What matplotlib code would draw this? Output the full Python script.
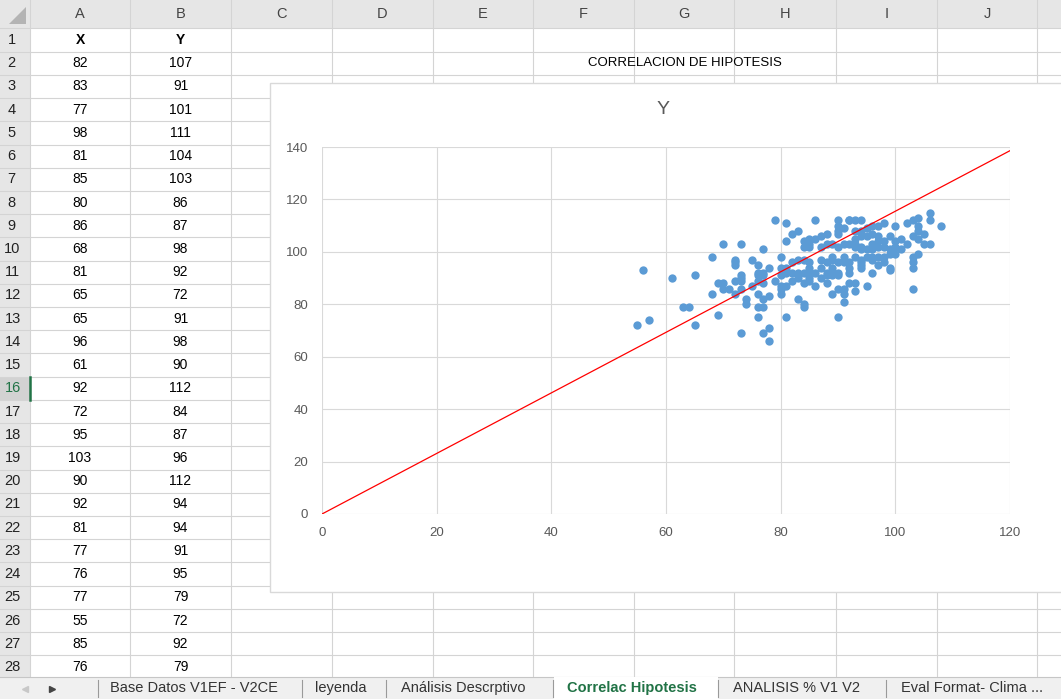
import matplotlib.pyplot as plt
from matplotlib.patches import Rectangle, Polygon

plt.rcParams['font.family'] = ['Liberation Sans', 'DejaVu Sans']

# ---------------- data ----------------
# rows visible in columns A (X) and B (Y) of the sheet
table_x = [82, 83, 77, 98, 81, 85, 80, 86, 68, 81, 65, 65, 96, 61, 92, 72, 95,
           103, 90, 92, 81, 77, 76, 77, 55, 85, 76]
table_y = [107, 91, 101, 111, 104, 103, 86, 87, 98, 92, 72, 91, 98, 90, 112, 84,
           87, 96, 112, 94, 94, 91, 95, 79, 72, 92, 79]

# remaining points
left_pts = [(56, 93), (57, 74), (63, 79), (64, 79), (69, 76), (70, 103), (73, 103),
            (68, 84), (69, 88), (70, 88), (70, 86), (71, 86), (72, 97), (72, 96),
            (72, 95), (72, 89), (73, 91), (73, 89), (73, 90), (73, 86), (74, 82),
            (74, 80), (73, 69), (75, 97), (75, 87), (76, 92), (76, 91), (76, 89),
            (76, 84), (76, 75), (77, 92), (77, 88), (77, 82), (77, 69), (78, 83),
            (78, 71), (78, 66), (78, 94), (79, 89), (79, 112), (81, 111), (83, 108),
            (80, 98), (80, 94), (80, 91), (80, 87), (80, 84), (81, 75)]
mid_pts = [(82, 96), (83, 97), (84, 97), (81, 87), (82, 89), (82, 92), (83, 90),
           (83, 92), (83, 82), (84, 80), (84, 79), (84, 88), (84, 92), (84, 104),
           (84, 102), (85, 105), (85, 102), (85, 90), (85, 89), (85, 94), (85, 96),
           (86, 105), (86, 92), (86, 112), (87, 106), (87, 102), (87, 90), (87, 94),
           (87, 97), (88, 107), (88, 103), (88, 88), (88, 91), (88, 92), (88, 96),
           (89, 103), (89, 97), (89, 94), (89, 92), (89, 91), (89, 98), (89, 84),
           (90, 110), (90, 107), (90, 108), (90, 102), (90, 96), (90, 92), (90, 91),
           (90, 86), (90, 75)]
upper_pts = [(91, 109), (91, 103), (91, 98), (91, 96), (91, 86), (91, 84), (91, 81),
             (92, 112), (92, 103), (92, 96), (92, 92), (92, 88), (93, 112), (93, 108),
             (93, 105), (93, 103), (93, 102), (93, 98), (93, 88), (93, 85), (94, 112),
             (94, 108), (94, 106), (94, 102), (94, 101), (94, 97), (94, 96), (94, 95),
             (94, 94), (95, 109), (95, 106), (95, 101), (95, 98), (96, 110), (96, 107),
             (96, 103), (96, 101), (96, 97), (96, 92), (97, 110), (97, 106), (97, 104),
             (97, 102), (97, 98), (97, 95), (98, 104), (98, 102), (98, 98), (98, 96)]
right_pts = [(99, 106), (99, 101), (99, 99), (99, 94), (99, 93), (100, 110), (100, 104),
             (100, 102), (101, 105), (101, 101), (102, 111), (103, 112), (103, 106),
             (103, 98), (103, 94), (103, 86), (104, 110), (104, 108), (104, 105),
             (104, 99), (104, 113), (105, 103), (105, 107), (106, 103), (106, 115),
             (106, 112), (108, 110), (100, 99), (102, 103)]

line_x = [0, 120]
line_y = [0, 138.6]

col_letters = ['A', 'B', 'C', 'D', 'E', 'F', 'G', 'H', 'I', 'J']
tab_names = ['Base Datos V1EF - V2CE', 'leyenda', 'Análisis Descrptivo',
             'Correlac Hipotesis', 'ANALISIS % V1 V2', 'Eval Format- Clima ...']

x_all = list(table_x)
y_all = list(table_y)
for grp in (left_pts, mid_pts, upper_pts, right_pts):
    for px, py in grp:
        x_all.append(px)
        y_all.append(py)

# ---------------- sheet background ----------------
W, H = 1061, 699
fig = plt.figure(figsize=(W / 100, H / 100), dpi=100)
bg = fig.add_axes([0, 0, 1, 1])
bg.set_xlim(0, W)
bg.set_ylim(H, 0)
bg.axis('off')

col_edges = [0, 30, 130, 231, 332, 433, 533, 634, 734, 836, 937, 1037, 1061]
row_top = 28.4
row_h = 23.22
n_rows = 28
tab_top = 677

grid_c = '#d4d4d4'
hdr_c = '#e6e6e6'

# headers
bg.add_patch(Rectangle((0, 0), W, row_top, facecolor=hdr_c, edgecolor='none'))
bg.add_patch(Rectangle((0, 0), 30, tab_top, facecolor=hdr_c, edgecolor='none'))
bg.add_patch(Polygon([(9, 24), (26, 24), (26, 7)], closed=True,
                     facecolor='#b4b4b4', edgecolor='none'))

# grid lines
for xe in col_edges[1:-1]:
    bg.plot([xe, xe], [0, tab_top], color=grid_c, lw=0.8)
for k in range(n_rows + 1):
    yy = row_top + k * row_h
    bg.plot([0, W], [yy, yy], color=grid_c, lw=0.8)

for i, letter in enumerate(col_letters):
    cx = (col_edges[i + 1] + col_edges[i + 2]) / 2
    bg.text(cx, 14, letter, ha='center', va='center', fontsize=10.5, color='#444444')

# row 16 selected header
sel_top = row_top + 15 * row_h
bg.add_patch(Rectangle((0, sel_top), 30, row_h, facecolor='#d2d2d2', edgecolor='none'))
bg.plot([29.5, 29.5], [sel_top, sel_top + row_h], color='#217346', lw=1.8)

for r in range(1, n_rows + 1):
    cy = row_top + (r - 0.5) * row_h
    col = '#217346' if r == 16 else '#222222'
    cx = 11.5 if r < 10 else 12.5
    bg.text(cx, cy, str(r), ha='center', va='center', fontsize=10.5, color=col)

# table cells
ax_c = (col_edges[1] + col_edges[2]) / 2
bx_c = (col_edges[2] + col_edges[3]) / 2
cy1 = row_top + 0.5 * row_h
bg.text(ax_c, cy1, 'X', ha='center', va='center', fontsize=10, weight='bold')
bg.text(bx_c, cy1, 'Y', ha='center', va='center', fontsize=10, weight='bold')
for i in range(len(table_x)):
    cy = row_top + (i + 1.5) * row_h
    bg.text(ax_c, cy, str(table_x[i]), ha='center', va='center', fontsize=10)
    bg.text(bx_c, cy, str(table_y[i]), ha='center', va='center', fontsize=10)

bg.text(685, row_top + 1.5 * row_h, 'CORRELACION DE HIPOTESIS', ha='center',
        va='center', fontsize=9.5)

# chart object box
bg.add_patch(Rectangle((270, 83), 820, 509, facecolor='white', edgecolor='#d9d9d9',
                       lw=1, zorder=5))
bg.text(663, 110, 'Y', ha='center', va='center', fontsize=14, color='#595959', zorder=6)

# sheet tabs
bg.add_patch(Rectangle((0, tab_top), W, H - tab_top, facecolor='#f0f0f0',
                       edgecolor='none', zorder=5))
bg.plot([0, W], [tab_top, tab_top], color='#c6c6c6', lw=0.8, zorder=6)
bg.add_patch(Rectangle((554, tab_top), 164, H - tab_top, facecolor='white',
                       edgecolor='none', zorder=6))
for sx in [98, 302, 386, 553, 718, 886]:
    bg.plot([sx, sx], [680, 697], color='#9a9a9a', lw=0.8, zorder=7)
tab_x = [110, 315, 401, 567, 733, 901]
for tx, name in zip(tab_x, tab_names):
    if name == 'Correlac Hipotesis':
        bg.text(tx, 688, name, ha='left', va='center', fontsize=10.5,
                weight='bold', color='#217346', zorder=8)
    else:
        bg.text(tx, 688, name, ha='left', va='center', fontsize=10.5,
                color='#333333', zorder=8)
bg.plot([25], [689], marker='<', ms=4, color='#c8c8c8', zorder=8)
bg.plot([52], [689], marker='>', ms=4, color='#444444', zorder=8)

# ---------------- chart ----------------
ax = fig.add_axes([322 / W, 1 - 514 / H, (1010 - 322) / W, (514 - 147) / H])
ax.set_zorder(10)
ax.patch.set_alpha(0)
ax.scatter(x_all, y_all, s=36, color='#5b9bd5', linewidths=0, zorder=3)
ax.plot(line_x, line_y, color='#ff0000', lw=0.9, zorder=4)

ax.set_xlim(0, 120)
ax.set_ylim(0, 140)
ax.set_xticks(range(0, 121, 20))
ax.set_yticks(range(0, 141, 20))
ax.grid(True, color='#d9d9d9', lw=0.8)
ax.set_axisbelow(True)
for s in ax.spines.values():
    s.set_visible(False)
ax.tick_params(length=0, labelsize=9.5, labelcolor='#595959')
ax.tick_params(axis='y', pad=10)
ax.tick_params(axis='x', pad=9)

fig.savefig('out.png', dpi=100)
